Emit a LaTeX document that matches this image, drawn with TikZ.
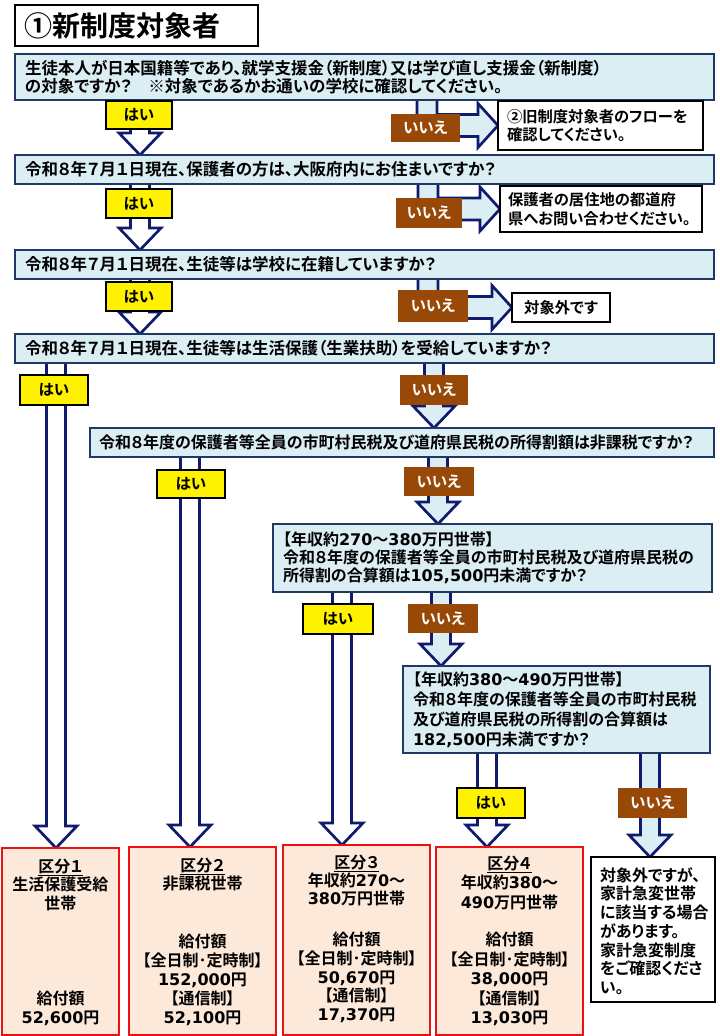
\documentclass[tikz,border=0pt]{standalone}
\usepackage{fontspec}
\setmainfont{Noto Sans CJK JP}[BoldFont={Noto Sans CJK JP Bold},RawFeature=+palt]
\newfontfamily\lat{DejaVu Sans}[BoldFont={DejaVu Sans Bold}]
\usetikzlibrary{calc,backgrounds}
\definecolor{qfill}{HTML}{DBEEF4}
\definecolor{qline}{HTML}{1F3864}
\definecolor{arrline}{HTML}{101A6E}
\definecolor{iiebrown}{HTML}{984807}
\definecolor{peach}{HTML}{FDE9D9}
\definecolor{redline}{HTML}{EE1111}
\newcommand\QFont{\fontsize{16.5}{18}\selectfont\bfseries}
\newcommand\LFont{\fontsize{15.5}{17}\selectfont\bfseries}
\newcommand\RFont{\fontsize{15.3}{18.5}\selectfont\bfseries}
\newcommand\Num[1]{{\lat #1}}
% down block arrow: style, centre x, from node, to node
\newcommand\FlowDown[4]{%
  \filldraw[#1] let \p1=(#3.south), \p2=(#4.north) in
    ({#2pt-9.5pt},{\y1+3pt}) -- ({#2pt-9.5pt},{\y2+22pt}) -- ({#2pt-21pt},{\y2+22pt})
    -- (#2pt,\y2) -- ({#2pt+21pt},{\y2+22pt}) -- ({#2pt+9.5pt},{\y2+22pt})
    -- ({#2pt+9.5pt},{\y1+3pt}) -- cycle;}
% bent block arrow: down from a box, then right into another
\newcommand\FlowRight[4]{%
  \filldraw[#1] let \p1=(#3.south), \p2=(#4.west) in
    ({#2pt-10pt},{\y1+3pt}) -- ({#2pt-10pt},{\y2-11pt}) -- ({\x2-20pt},{\y2-11pt})
    -- ({\x2-20pt},{\y2-22pt}) -- (\x2,\y2) -- ({\x2-20pt},{\y2+22pt})
    -- ({\x2-20pt},{\y2+11pt}) -- ({#2pt+10pt},{\y2+11pt}) -- ({#2pt+10pt},{\y1+3pt}) -- cycle;}
\begin{document}
\begin{tikzpicture}[x=1pt,y=-1pt,
  every node/.style={inner sep=0pt,outer sep=0pt},
  qbox/.style={draw=qline,fill=qfill,line width=1.8pt,anchor=north west,inner xsep=10pt,align=left,font=\QFont},
  haibox/.style={draw=black,line width=1.3pt,fill=yellow,anchor=north west,font=\LFont},
  iiebox/.style={fill=iiebrown,text=white,anchor=north west,font=\LFont},
  rbox/.style={draw=black,line width=1.6pt,fill=white,anchor=north west,inner xsep=10pt,font=\RFont},
  pbox/.style={draw=redline,line width=1.8pt,fill=peach,anchor=north west},
  ptext/.style={align=center,font={\fontsize{16}{#1}\selectfont\bfseries}},
  hollow/.style={draw=arrline,fill=white,line width=2.7pt,line join=miter},
  bluearrow/.style={draw=arrline,fill=qfill,line width=2.7pt,line join=miter}]
\useasboundingbox (0,0) rectangle (720,1036);

% title
\node[draw=black,line width=1.8pt,fill=white,anchor=north west,minimum width=243pt,minimum height=41pt,
  text width=225pt,inner xsep=9pt,align=left,font={\fontsize{28}{30}\selectfont\bfseries}] (title) at (15,5) {①新制度対象者};

% questions
\node[qbox,minimum width=699pt,minimum height=46pt,text width=679pt] (q1) at (15,54)
  {生徒本人が日本国籍等であり、就学支援金（新制度）又は学び直し支援金（新制度）\\の対象ですか？　※対象であるかお通いの学校に確認してください。};
\node[qbox,minimum width=699pt,minimum height=29pt,text width=679pt] (q2) at (15,155)
  {令和８年７月１日現在、保護者の方は、大阪府内にお住まいですか？};
\node[qbox,minimum width=699pt,minimum height=29pt,text width=679pt] (q3) at (15,250)
  {令和８年７月１日現在、生徒等は学校に在籍していますか？};
\node[qbox,minimum width=699pt,minimum height=29pt,text width=679pt] (q4) at (15,334)
  {令和８年７月１日現在、生徒等は生活保護（生業扶助）を受給していますか？};
\node[qbox,minimum width=624pt,minimum height=29pt,text width=606pt,inner xsep=9pt,font={\fontsize{16}{18}\selectfont\bfseries}] (q5) at (90,428)
  {令和８年度の保護者等全員の市町村民税及び道府県民税の所得割額は非課税ですか？};
\node[qbox,minimum width=439pt,minimum height=68pt,text width=419pt,font={\fontsize{16}{18}\selectfont\bfseries}] (q6) at (273,524)
  {【年収約\Num{270}～\Num{380}万円世帯】\\令和８年度の保護者等全員の市町村民税及び道府県民税の\\所得割の合算額は\Num{105,500}円未満ですか？};
\node[qbox,minimum width=307pt,minimum height=87pt,text width=287pt,font={\fontsize{16}{20}\selectfont\bfseries}] (q7) at (403,666)
  {【年収約\Num{380}～\Num{490}万円世帯】\\令和８年度の保護者等全員の市町村民税\\及び道府県民税の所得割の合算額は\\\Num{182,500}円未満ですか？};

% yes labels
\node[haibox,minimum width=66pt,minimum height=28pt] (h1) at (106,101) {はい};
\node[haibox,minimum width=66pt,minimum height=29pt] (h2) at (106,189) {はい};
\node[haibox,minimum width=66pt,minimum height=29pt] (h3) at (106,282) {はい};
\node[haibox,minimum width=68pt,minimum height=30pt] (h4) at (20,375) {はい};
\node[haibox,minimum width=68pt,minimum height=28pt] (h5) at (157,470) {はい};
\node[haibox,minimum width=70pt,minimum height=30pt] (h6) at (303,604) {はい};
\node[haibox,minimum width=68pt,minimum height=30pt] (h7) at (457,788) {はい};

% no labels
\node[iiebox,minimum width=69pt,minimum height=28pt] (i1) at (391,114) {いいえ};
\node[iiebox,minimum width=66pt,minimum height=30pt] (i2) at (396,198) {いいえ};
\node[iiebox,minimum width=70pt,minimum height=32pt] (i3) at (398,290) {いいえ};
\node[iiebox,minimum width=68pt,minimum height=30pt] (i4) at (400,375) {いいえ};
\node[iiebox,minimum width=70pt,minimum height=29pt] (i5) at (404,467) {いいえ};
\node[iiebox,minimum width=70pt,minimum height=29pt] (i6) at (408,604) {いいえ};
\node[iiebox,minimum width=69pt,minimum height=30pt] (i7) at (618,788) {いいえ};

% side results
\node[rbox,minimum width=205pt,minimum height=49pt,text width=187pt,inner xsep=9pt,align=left] (r1) at (498,101)
  {②旧制度対象者のフローを\\確認してください。};
\node[rbox,minimum width=202pt,minimum height=46pt,text width=186pt,inner xsep=8pt,align=left] (r2) at (500,186)
  {保護者の居住地の都道府\\県へお問い合わせください。};
\node[rbox,minimum width=98pt,minimum height=29pt,text width=78pt,align=center] (r3) at (512,293)
  {対象外です};

% bottom result boxes
\node[pbox,minimum width=117pt,minimum height=187pt] (b1) at (2,848) {};
\node[pbox,minimum width=147pt,minimum height=188pt] (b2) at (129,847) {};
\node[pbox,minimum width=147pt,minimum height=190pt] (b3) at (283,845) {};
\node[pbox,minimum width=147pt,minimum height=188pt] (b4) at (436,847) {};
\node[draw=black,line width=1.6pt,fill=white,anchor=north west,minimum width=124pt,minimum height=145pt] (b5) at (591,857) {};

\node[ptext=18.5pt] (b1t) at (60.5,884.5) {\underline{区分１}\\生活保護受給\\世帯};
\node[ptext=19pt] (b1m) at (60.5,1008.5) {給付額\\\Num{52,600}円};
\node[ptext=17pt] (b2t) at (202.5,874.5) {\underline{区分２}\\非課税世帯};
\node[ptext=19pt] (b2m) at (202.5,980) {給付額\\【全日制･定時制】\\\Num{152,000}円\\【通信制】\\\Num{52,100}円};
\node[ptext=18pt] (b3t) at (356.5,880) {\underline{区分３}\\年収約\Num{270}～\\\Num{380}万円世帯};
\node[ptext=18.75pt] (b3m) at (356.5,977.5) {給付額\\【全日制･定時制】\\\Num{50,670}円\\【通信制】\\\Num{17,370}円};
\node[ptext=19.5pt] (b4t) at (509.5,882.5) {\underline{区分４}\\年収約\Num{380}～\\\Num{490}万円世帯};
\node[ptext=19.5pt] (b4m) at (509.5,979) {給付額\\【全日制･定時制】\\\Num{38,000}円\\【通信制】\\\Num{13,030}円};
\node[align=left,anchor=west,font={\fontsize{16}{18.67}\selectfont\bfseries}] (b5t) at (600,931)
  {対象外ですが、\\家計急変世帯\\に該当する場合\\があります。\\家計急変制度\\をご確認くださ\\い。};

% block arrows behind everything
\begin{scope}[on background layer]
\fill[white] (0,0) rectangle (720,1036);
\FlowDown{hollow}{140}{q1}{q2}
\FlowDown{hollow}{140}{q2}{q3}
\FlowDown{hollow}{140}{q3}{q4}
\FlowDown{hollow}{56}{q4}{b1}
\FlowDown{hollow}{190}{q5}{b2}
\FlowDown{hollow}{342}{q6}{b3}
\FlowDown{hollow}{487}{q7}{b4}
\FlowDown{bluearrow}{434}{q4}{q5}
\FlowDown{bluearrow}{438}{q5}{q6}
\FlowDown{bluearrow}{441}{q6}{q7}
\FlowDown{bluearrow}{650}{q7}{b5}
\FlowRight{bluearrow}{427}{q1}{r1}
\FlowRight{bluearrow}{428}{q2}{r2}
\FlowRight{bluearrow}{428}{q3}{r3}
\end{scope}
\end{tikzpicture}
\end{document}
